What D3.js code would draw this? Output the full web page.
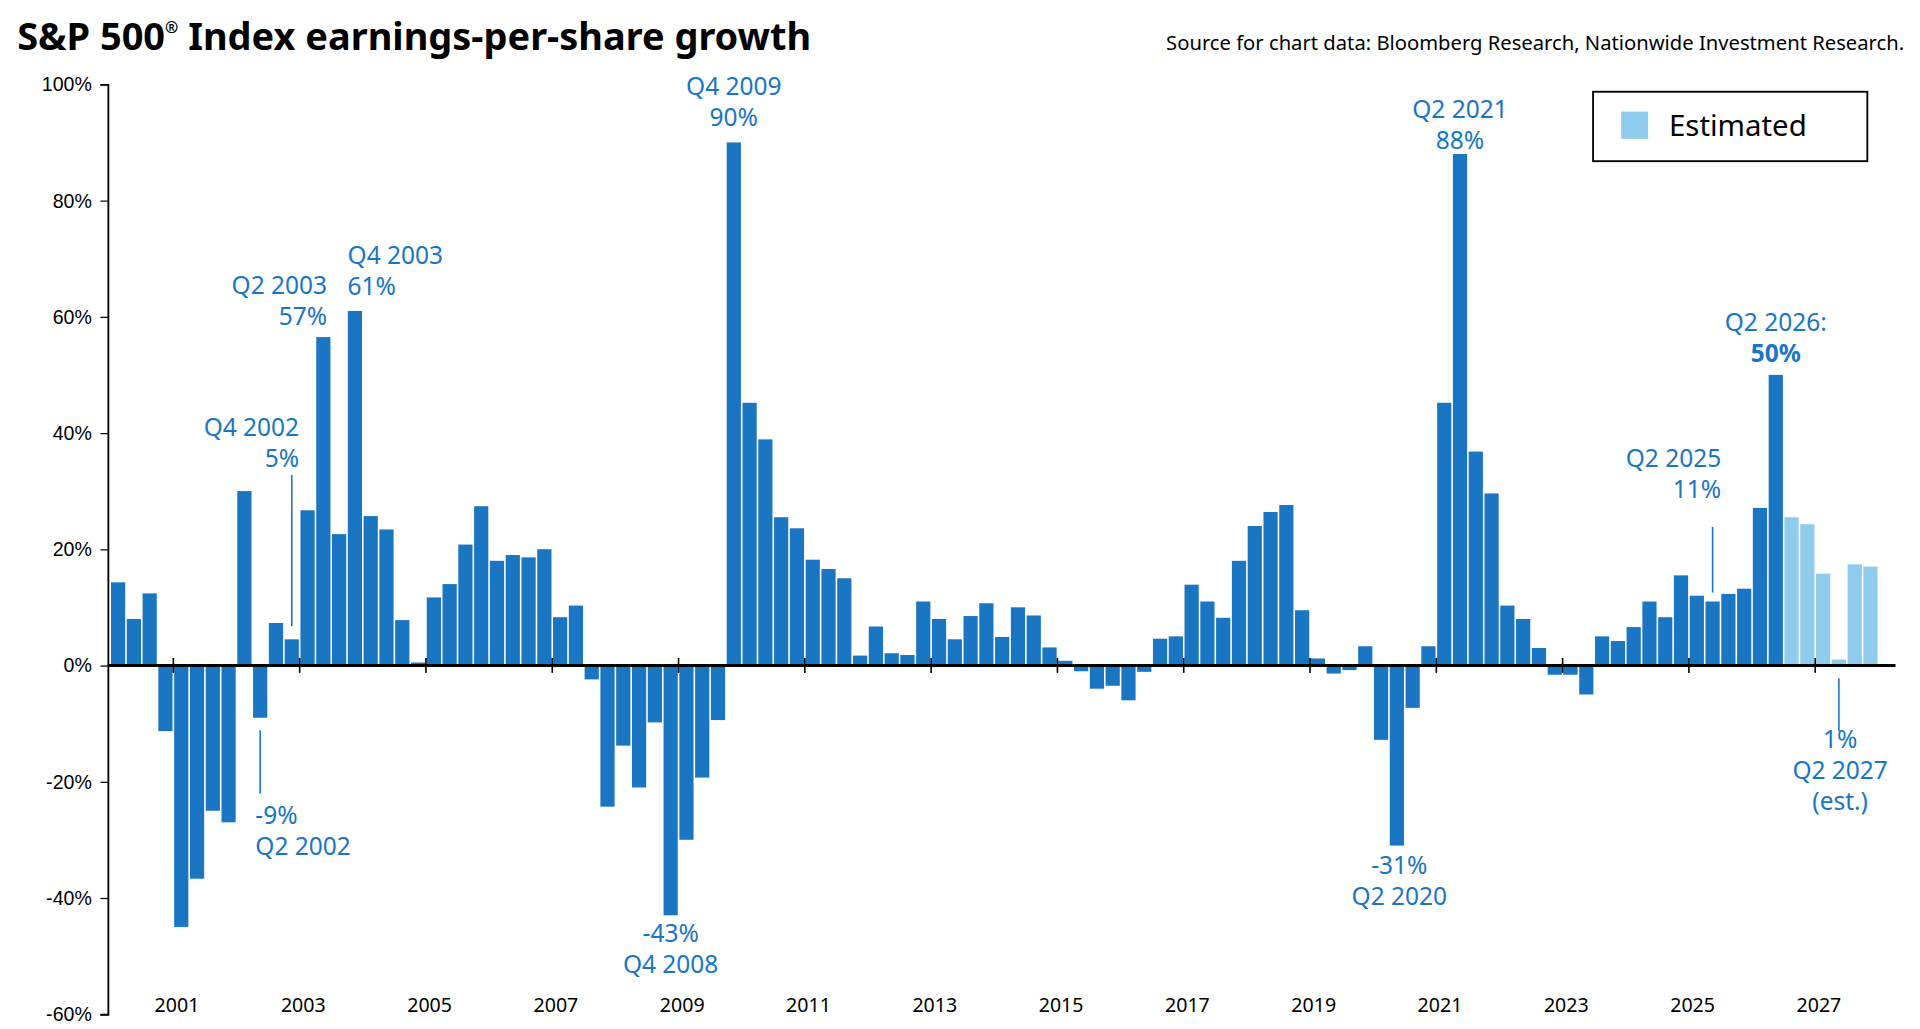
<!DOCTYPE html>
<html>
<head>
<meta charset="utf-8">
<script src="https://cdn.jsdelivr.net/npm/d3@7"></script>
<style>
  html, body { margin: 0; padding: 0; background: #fff; }
  svg { display: block; font-family: 'Noto Sans', sans-serif; }
</style>
</head>
<body>
<div id="chart"></div>
<script>
const QUARTERS = d3.range(2000, 2028).flatMap(y => [1, 2, 3, 4].map(q => `Q${q} ${y}`))
const GROWTH = [
  14.3, 8, 12.4, -11.3, -45, -36.7, -25, -27,
  30, -9, 7.3, 4.5, 26.7, 56.5, 22.6, 61,
  25.7, 23.4, 7.8, 0.5, 11.7, 14, 20.8, 27.4,
  18, 19, 18.6, 20, 8.3, 10.3, -2.4, -24.3,
  -13.8, -21, -9.8, -43, -30, -19.3, -9.4, 90,
  45.2, 38.9, 25.5, 23.6, 18.2, 16.6, 15, 1.7,
  6.7, 2.1, 1.8, 11, 8, 4.5, 8.5, 10.7,
  4.9, 10, 8.6, 3.1, 0.8, -1, -4, -3.5,
  -6, -1.1, 4.6, 5, 13.9, 11, 8.2, 18,
  24, 26.4, 27.6, 9.5, 1.2, -1.4, -0.8, 3.3,
  -12.8, -31, -7.3, 3.3, 45.2, 88, 36.8, 29.6,
  10.3, 8, 3, -1.6, -1.6, -5, 5, 4.2,
  6.6, 11, 8.3, 15.5, 12, 11, 12.3, 13.2,
  27.1, 50, 25.5, 24.3, 15.8, 1, 17.4, 17
]
const FIRST_ESTIMATE = 'Q3 2026'
const Y_TICKS = [-60, -40, -20, 0, 20, 40, 60, 80, 100]
const YEAR_TICKS = d3.range(2001, 2028, 2)

const W = 1568
const H = 830
const DARK = '#1a75c2'
const LIGHT = '#8ecbec'

const svg = d3.select('#chart').append('svg')
  .attr('width', 1920).attr('height', 1029)
  .attr('viewBox', `0 0 ${W} ${H}`)
  .attr('preserveAspectRatio', 'none')

const x = d3.scaleBand().domain(QUARTERS).range([90, 1534]).paddingInner(0.1).paddingOuter(0.05)
const y = d3.scaleLinear().domain([-60, 100]).range([818, 68])
const estIdx = QUARTERS.indexOf(FIRST_ESTIMATE)
const data = QUARTERS.map((q, i) => ({ q, v: GROWTH[i], est: i >= estIdx }))

// bars
svg.append('g').selectAll('rect').data(data).join('rect')
  .attr('x', d => x(d.q))
  .attr('width', x.bandwidth())
  .attr('y', d => y(Math.max(0, d.v)))
  .attr('height', d => Math.abs(y(d.v) - y(0)))
  .attr('fill', d => d.est ? LIGHT : DARK)

// y axis
svg.append('g').attr('transform', 'translate(88,0)')
  .call(d3.axisLeft(y).tickValues(Y_TICKS).tickFormat(d => d + '%').tickSize(6))
  .call(g => g.select('.domain').attr('stroke', '#000').attr('stroke-width', 1.5))
  .call(g => g.selectAll('text').attr('font-size', 16).attr('fill', '#000').attr('dx', -4))

// zero line and year ticks
svg.append('line').attr('x1', 88).attr('x2', 1548).attr('y1', y(0)).attr('y2', y(0))
  .attr('stroke', '#000').attr('stroke-width', 2.5)
const yearX = yr => x(`Q1 ${yr}`) - x.step() * x.paddingInner() / 2
svg.append('g').selectAll('line').data(YEAR_TICKS).join('line')
  .attr('x1', yearX).attr('x2', yearX)
  .attr('y1', y(0) - 6).attr('y2', y(0) + 6)
  .attr('stroke', '#000').attr('stroke-width', 1.3)
svg.append('g').selectAll('text').data(YEAR_TICKS).join('text')
  .attr('x', d => yearX(d) + 3).attr('y', 816)
  .attr('text-anchor', 'middle').attr('font-size', 16).text(d => d)

// title and source
svg.append('text').attr('x', 14).attr('y', 40).attr('font-size', 31).attr('font-weight', 700)
  .html('S&amp;P 500<tspan font-size="13" dy="-13">®</tspan><tspan dy="13"> Index earnings-per-share growth</tspan>')
svg.append('text').attr('x', 1555).attr('y', 40).attr('text-anchor', 'end').attr('font-size', 16.5)
  .text('Source for chart data: Bloomberg Research, Nationwide Investment Research.')

// legend
svg.append('rect').attr('x', 1301).attr('y', 74).attr('width', 224).attr('height', 56)
  .attr('fill', '#fff').attr('stroke', '#000').attr('stroke-width', 1.5)
svg.append('rect').attr('x', 1324).attr('y', 90).attr('width', 22).attr('height', 22).attr('fill', LIGHT)
svg.append('text').attr('x', 1363).attr('y', 110).attr('font-size', 24).text('Estimated')

// annotations
const cx = q => x(q) + x.bandwidth() / 2
const val = q => GROWTH[QUARTERS.indexOf(q)]
const notes = [
  { q: 'Q4 2009', lines: ['Q4 2009', '90%'], dx: 0, y0: y(val('Q4 2009')) - 38, anchor: 'middle' },
  { q: 'Q2 2021', lines: ['Q2 2021', '88%'], dx: 0, y0: y(val('Q2 2021')) - 29, anchor: 'middle' },
  { q: 'Q4 2003', lines: ['Q4 2003', '61%'], dx: -6, y0: 213, anchor: 'start' },
  { q: 'Q2 2003', lines: ['Q2 2003', '57%'], dx: 3, y0: 237, anchor: 'end' },
  { q: 'Q4 2002', lines: ['Q4 2002', '5%'], dx: 6, y0: 352, anchor: 'end', lead: [383, 505] },
  { q: 'Q2 2002', lines: ['-9%', 'Q2 2002'], dx: -4, y0: 665, anchor: 'start', lead: [589, 640] },
  { q: 'Q4 2008', lines: ['-43%', 'Q4 2008'], dx: 0, y0: 760, anchor: 'middle' },
  { q: 'Q2 2020', lines: ['-31%', 'Q2 2020'], dx: 2, y0: 705, anchor: 'middle' },
  { q: 'Q2 2025', lines: ['Q2 2025', '11%'], dx: 7, y0: 377, anchor: 'end', lead: [425, 478] },
  { q: 'Q2 2027', lines: ['1%', 'Q2 2027', '(est.)'], dx: 1, y0: 603, anchor: 'middle', lead: [547, 590] }
]
const ann = svg.append('g').attr('fill', DARK).attr('font-size', 20)
notes.forEach(n => {
  const t = ann.append('text').attr('x', cx(n.q) + n.dx).attr('y', n.y0).attr('text-anchor', n.anchor)
  n.lines.forEach((l, i) => t.append('tspan').attr('x', cx(n.q) + n.dx).attr('dy', i ? 25 : 0).text(l))
  if (n.lead) {
    ann.append('line').attr('x1', cx(n.q)).attr('x2', cx(n.q)).attr('y1', n.lead[0]).attr('y2', n.lead[1])
      .attr('stroke', DARK).attr('stroke-width', 1.3)
  }
})
const q26 = ann.append('text').attr('x', cx('Q2 2026')).attr('y', 267).attr('text-anchor', 'middle')
q26.append('tspan').attr('x', cx('Q2 2026')).text('Q2 2026:')
q26.append('tspan').attr('x', cx('Q2 2026')).attr('dy', 25).attr('font-weight', 700).text('50%')
</script>
</body>
</html>
